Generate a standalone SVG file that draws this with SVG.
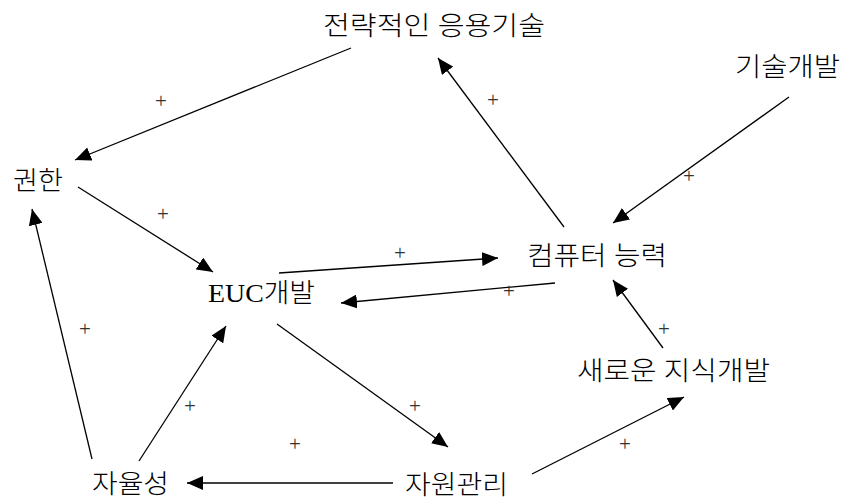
<svg xmlns="http://www.w3.org/2000/svg" width="842" height="499" viewBox="0 0 842 499">
<style>
.lbl{font-family:"Liberation Serif","Noto Sans CJK KR",serif;font-size:26px;font-weight:300;fill:#000}
.pl{font-family:"Liberation Serif",serif;font-size:21px;fill:#333;text-anchor:middle}
.c{stroke:#000;stroke-width:1.3;fill:none;marker-end:url(#ah)}
</style>
<defs>
<marker id="ah" viewBox="0 0 16 14" markerWidth="16" markerHeight="14" refX="16" refY="7" orient="auto" markerUnits="userSpaceOnUse">
<path d="M0,0 L16,7 L0,14 z" fill="#000"/>
</marker>
</defs>
<rect width="842" height="499" fill="#fff"/>
<g id="connectors">
<line class="c" x1="351" y1="48" x2="75" y2="160"/>
<line class="c" x1="564" y1="227" x2="438" y2="58"/>
<line class="c" x1="789" y1="97" x2="613" y2="223"/>
<line class="c" x1="78" y1="187" x2="213" y2="272"/>
<line class="c" x1="279" y1="273" x2="498" y2="258"/>
<line class="c" x1="555" y1="283" x2="341" y2="303"/>
<line class="c" x1="663" y1="348" x2="613" y2="280"/>
<line class="c" x1="92" y1="459" x2="32" y2="209"/>
<line class="c" x1="139" y1="461" x2="226" y2="326"/>
<line class="c" x1="277" y1="324" x2="448" y2="447"/>
<line class="c" x1="393" y1="483" x2="187" y2="483"/>
<line class="c" x1="532" y1="474" x2="684" y2="397"/>
</g>
<g id="signs">
<text class="pl" x="161" y="108">+</text>
<text class="pl" x="493" y="107">+</text>
<text class="pl" x="689" y="183">+</text>
<text class="pl" x="163" y="221">+</text>
<text class="pl" x="400" y="260">+</text>
<text class="pl" x="509" y="298">+</text>
<text class="pl" x="85" y="336">+</text>
<text class="pl" x="664" y="336">+</text>
<text class="pl" x="190" y="413">+</text>
<text class="pl" x="415" y="413">+</text>
<text class="pl" x="295" y="451">+</text>
<text class="pl" x="625" y="451">+</text>
</g>
<g id="n-strategy"><text class="lbl" x="323" y="35" textLength="222" lengthAdjust="spacingAndGlyphs">전략적인 응용기술</text></g>
<g id="n-techdev"><text class="lbl" x="735" y="76" textLength="105" lengthAdjust="spacingAndGlyphs">기술개발</text></g>
<g id="n-authority"><text class="lbl" x="13" y="190" textLength="50" lengthAdjust="spacingAndGlyphs">권한</text></g>
<g id="n-euc"><text class="lbl" x="208" y="302" textLength="107" lengthAdjust="spacingAndGlyphs">EUC개발</text></g>
<g id="n-computer"><text class="lbl" x="527" y="265" textLength="140" lengthAdjust="spacingAndGlyphs">컴퓨터 능력</text></g>
<g id="n-knowledge"><text class="lbl" x="577" y="380" textLength="193" lengthAdjust="spacingAndGlyphs">새로운 지식개발</text></g>
<g id="n-autonomy"><text class="lbl" x="92" y="493" textLength="77" lengthAdjust="spacingAndGlyphs">자율성</text></g>
<g id="n-resource"><text class="lbl" x="405" y="494" textLength="103" lengthAdjust="spacingAndGlyphs">자원관리</text></g>
</svg>
